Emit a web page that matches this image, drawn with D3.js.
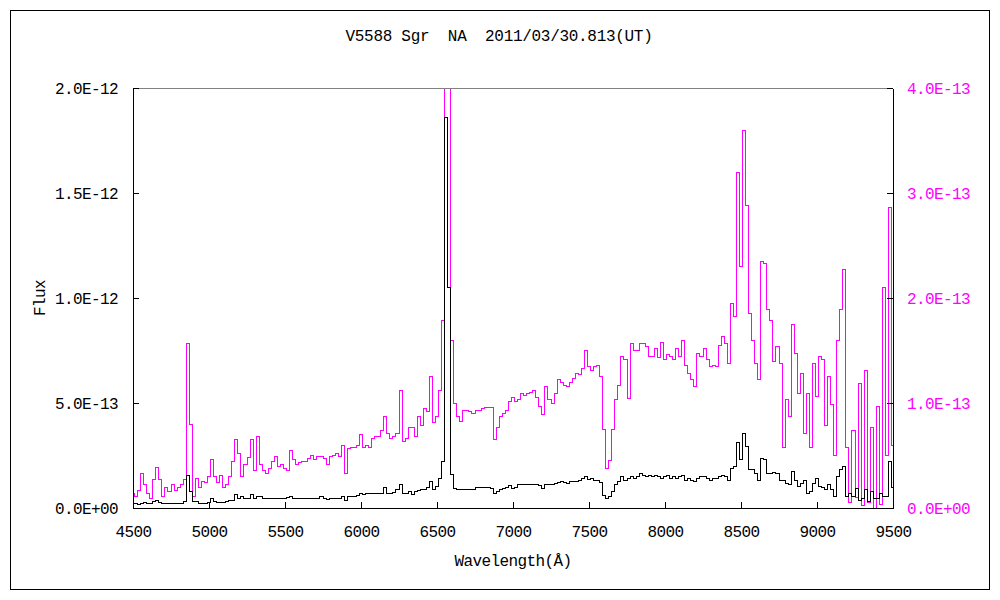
<!DOCTYPE html>
<html>
<head>
<meta charset="utf-8">
<script src="https://cdn.jsdelivr.net/npm/d3@7"></script>
<style>
body { margin: 0; background: #fff; }
text { font-family: "Liberation Mono", "DejaVu Sans Mono", monospace; font-size: 16px; letter-spacing: -0.6px; }
</style>
</head>
<body>
<div id="chart-container"></div>
<script>
// Spectrum sampled every 20 A from 4500 to 9500 A
const wavelengths = d3.range(4500, 9501, 20);

// Flux in units of 1e-13 (left axis, black)
const fluxBlack = [
  0.21, 0.22, 0.16, 0.22, 0.25, 0.21, 0.22, 0.30, 0.38, 0.25,
  0.21, 0.21, 0.21, 0.22, 0.22, 0.22, 0.22, 0.30, 1.55, 0.80,
  0.30, 0.30, 0.22, 0.22, 0.22, 0.25, 0.46, 0.30, 0.25, 0.25,
  0.25, 0.30, 0.35, 0.38, 0.62, 0.46, 0.54, 0.46, 0.46, 0.62,
  0.46, 0.54, 0.57, 0.46, 0.46, 0.46, 0.46, 0.46, 0.46, 0.46,
  0.46, 0.50, 0.54, 0.46, 0.46, 0.46, 0.46, 0.46, 0.46, 0.46,
  0.46, 0.46, 0.54, 0.46, 0.41, 0.46, 0.46, 0.46, 0.46, 0.54,
  0.38, 0.57, 0.57, 0.57, 0.60, 0.67, 0.62, 0.67, 0.67, 0.67,
  0.67, 0.67, 0.71, 0.98, 0.71, 0.67, 0.73, 0.86, 1.10, 0.71,
  0.71, 0.78, 0.62, 0.78, 0.83, 0.86, 0.89, 0.98, 1.25, 0.89,
  1.02, 1.41, 2.20, 18.6, 10.5, 1.60, 0.95, 0.89, 0.86, 0.86,
  0.86, 0.86, 0.89, 0.98, 0.98, 0.98, 0.98, 0.98, 0.94, 0.67,
  0.78, 0.89, 0.94, 0.98, 1.05, 0.94, 0.98, 1.10, 1.10, 1.10,
  1.14, 1.14, 1.14, 1.10, 1.05, 0.94, 1.14, 1.10, 1.14, 1.17,
  1.21, 1.25, 1.21, 1.17, 1.25, 1.25, 1.25, 1.33, 1.41, 1.52,
  1.37, 1.41, 1.33, 1.33, 1.21, 0.60, 0.46, 0.54, 0.78, 1.10,
  1.25, 1.49, 1.33, 1.41, 1.49, 1.41, 1.49, 1.65, 1.57, 1.52,
  1.57, 1.49, 1.57, 1.49, 1.41, 1.49, 1.57, 1.41, 1.49, 1.41,
  1.49, 1.57, 1.33, 1.41, 1.33, 1.25, 1.41, 1.49, 1.49, 1.41,
  1.33, 1.41, 1.41, 1.49, 1.57, 1.49, 1.33, 1.89, 1.97, 3.10,
  2.29, 3.56, 2.92, 1.81, 1.81, 1.65, 1.33, 2.37, 2.29, 1.65,
  1.65, 1.70, 1.65, 1.33, 1.33, 1.17, 1.10, 1.73, 1.33, 1.02,
  1.17, 1.33, 0.70, 0.78, 1.17, 1.41, 1.02, 0.98, 0.86, 1.10,
  0.86, 0.54, 1.49, 1.81, 1.97, 0.54, 0.70, 0.54, 0.94, 0.38,
  0.46, 0.86, 0.30, 0.78, 0.46, 0.46, 0.70, 0.54, 0.54, 2.20,
  1.00
];

// Flux in units of 1e-13 (right axis, magenta)
const fluxMagenta = [
  0.14, 0.11, 0.17, 0.33, 0.22, 0.14, 0.09, 0.27, 0.39, 0.27,
  0.11, 0.20, 0.16, 0.22, 0.17, 0.20, 0.22, 0.27, 1.57, 0.80,
  0.11, 0.28, 0.20, 0.25, 0.24, 0.30, 0.46, 0.30, 0.24, 0.31,
  0.20, 0.22, 0.30, 0.44, 0.65, 0.52, 0.30, 0.41, 0.48, 0.65,
  0.36, 0.68, 0.41, 0.36, 0.33, 0.38, 0.44, 0.49, 0.40, 0.41,
  0.38, 0.36, 0.55, 0.46, 0.41, 0.43, 0.44, 0.44, 0.47, 0.50,
  0.46, 0.49, 0.49, 0.47, 0.41, 0.49, 0.50, 0.52, 0.49, 0.60,
  0.33, 0.57, 0.58, 0.58, 0.60, 0.70, 0.58, 0.60, 0.58, 0.66,
  0.68, 0.68, 0.74, 0.87, 0.71, 0.66, 0.68, 0.71, 1.12, 0.63,
  0.66, 0.77, 0.77, 0.68, 0.87, 0.79, 0.95, 0.92, 1.25, 0.81,
  0.87, 1.12, 1.79, 6.00, 5.20, 1.60, 1.00, 0.87, 0.82, 0.93,
  0.93, 0.92, 0.90, 0.93, 0.93, 0.95, 0.96, 0.96, 0.96, 0.65,
  0.77, 0.87, 0.90, 0.93, 1.01, 1.05, 1.01, 1.03, 1.09, 1.07,
  1.09, 1.10, 1.12, 1.05, 0.97, 0.89, 1.16, 1.03, 1.00, 1.09,
  1.22, 1.20, 1.17, 1.16, 1.20, 1.23, 1.28, 1.27, 1.33, 1.50,
  1.35, 1.31, 1.35, 1.36, 1.25, 0.75, 0.38, 0.45, 0.75, 1.03,
  1.17, 1.44, 1.41, 1.04, 1.57, 1.50, 1.50, 1.57, 1.57, 1.54,
  1.44, 1.44, 1.52, 1.43, 1.58, 1.41, 1.46, 1.44, 1.41, 1.52,
  1.44, 1.60, 1.36, 1.28, 1.22, 1.16, 1.47, 1.44, 1.52, 1.41,
  1.35, 1.36, 1.35, 1.55, 1.63, 1.57, 1.38, 1.95, 1.82, 3.20,
  2.30, 3.60, 2.88, 1.85, 1.60, 1.38, 1.22, 2.35, 2.33, 1.89,
  1.79, 1.40, 1.54, 1.38, 0.58, 1.03, 0.87, 1.75, 1.47, 1.09,
  1.28, 0.71, 1.09, 0.58, 1.38, 1.06, 1.44, 1.41, 0.79, 1.25,
  0.99, 0.50, 1.60, 1.89, 2.27, 0.58, 0.05, 0.74, 0.10, 1.19,
  0.02, 1.31, 0.05, 0.77, 0.00, 0.97, 0.03, 2.10, 0.50, 2.86,
  0.60
];
const UNIT = 1e-13;

const xTicks = [4500, 5000, 5500, 6000, 6500, 7000, 7500, 8000, 8500, 9000, 9500];
const yLeftTicks = [0, 5e-13, 1e-12, 1.5e-12, 2e-12];
const yLeftLabels = ["0.0E+00", "5.0E-13", "1.0E-12", "1.5E-12", "2.0E-12"];
const yRightTicks = [0, 1e-13, 2e-13, 3e-13, 4e-13];
const yRightLabels = ["0.0E+00", "1.0E-13", "2.0E-13", "3.0E-13", "4.0E-13"];

const titleText = "V5588 Sgr  NA  2011/03/30.813(UT)";

// Plot box
const plot = {left: 133, right: 893, top: 88, bottom: 508};

const svg = d3.select("#chart-container")
  .append("svg")
  .attr("width", 1000)
  .attr("height", 600);

// outer frame
svg.append("rect")
  .attr("x", 10.5).attr("y", 10.5)
  .attr("width", 979).attr("height", 579)
  .attr("fill", "none")
  .attr("stroke", "#000");

const x = d3.scaleLinear().domain([4500, 9500]).range([plot.left, plot.right]);
const yLeft = d3.scaleLinear().domain([0, 2e-12]).range([plot.bottom, plot.top]);
const yRight = d3.scaleLinear().domain([0, 4e-13]).range([plot.bottom, plot.top]);

svg.append("clipPath")
  .attr("id", "plot-clip")
  .append("rect")
  .attr("x", plot.left).attr("y", plot.top)
  .attr("width", plot.right - plot.left)
  .attr("height", plot.bottom - plot.top);

const blackData = wavelengths.map((w, i) => ({w: w, f: fluxBlack[i] * UNIT}));
const magentaData = wavelengths.map((w, i) => ({w: w, f: fluxMagenta[i] * UNIT}));

const lineLeft = d3.line().x(d => x(d.w)).y(d => yLeft(d.f)).curve(d3.curveStep);
const lineRight = d3.line().x(d => x(d.w)).y(d => yRight(d.f)).curve(d3.curveStep);

const lines = svg.append("g").attr("clip-path", "url(#plot-clip)");

lines.append("path")
  .attr("d", lineRight(magentaData))
  .attr("fill", "none")
  .attr("stroke", "#ff00ff")
  .attr("stroke-width", 1)
  .attr("shape-rendering", "crispEdges");

lines.append("path")
  .attr("d", lineLeft(blackData))
  .attr("fill", "none")
  .attr("stroke", "#000")
  .attr("stroke-width", 1)
  .attr("shape-rendering", "crispEdges");

// top edge of the plot is grey
svg.append("line")
  .attr("x1", plot.left).attr("x2", plot.right)
  .attr("y1", plot.top + 0.5).attr("y2", plot.top + 0.5)
  .attr("stroke", "#808080");

// Axes
const xAxis = svg.append("g")
  .attr("transform", `translate(0,${plot.bottom})`)
  .call(d3.axisBottom(x).tickValues(xTicks).tickFormat(d3.format("d"))
    .tickSizeInner(-6).tickSizeOuter(0).tickPadding(18));

const leftAxis = svg.append("g")
  .attr("transform", `translate(${plot.left},0)`)
  .call(d3.axisLeft(yLeft).tickValues(yLeftTicks)
    .tickFormat((d, i) => yLeftLabels[i])
    .tickSizeInner(-6).tickSizeOuter(0).tickPadding(15));

const rightAxis = svg.append("g")
  .attr("transform", `translate(${plot.right},0)`)
  .call(d3.axisRight(yRight).tickValues(yRightTicks)
    .tickFormat((d, i) => yRightLabels[i])
    .tickSizeInner(-6).tickSizeOuter(0).tickPadding(14));

svg.selectAll(".domain, .tick line")
  .attr("stroke", "#000")
  .attr("shape-rendering", "crispEdges");

svg.selectAll(".tick text")
  .attr("fill", "#000")
  .style("font-size", "16px")
  .style("font-family", null);

rightAxis.selectAll(".tick text").attr("fill", "#ff00ff");

// Title
svg.append("text")
  .attr("x", 499)
  .attr("y", 41)
  .attr("text-anchor", "middle")
  .style("white-space", "pre")
  .style("letter-spacing", "-0.3px")
  .text(titleText);

// Axis titles
svg.append("text")
  .attr("x", (plot.left + plot.right) / 2)
  .attr("y", 566)
  .attr("text-anchor", "middle")
  .text("Wavelength(Å)");

svg.append("text")
  .attr("transform", `translate(45,${(plot.top + plot.bottom) / 2}) rotate(-90)`)
  .attr("text-anchor", "middle")
  .text("Flux");
</script>
</body>
</html>
